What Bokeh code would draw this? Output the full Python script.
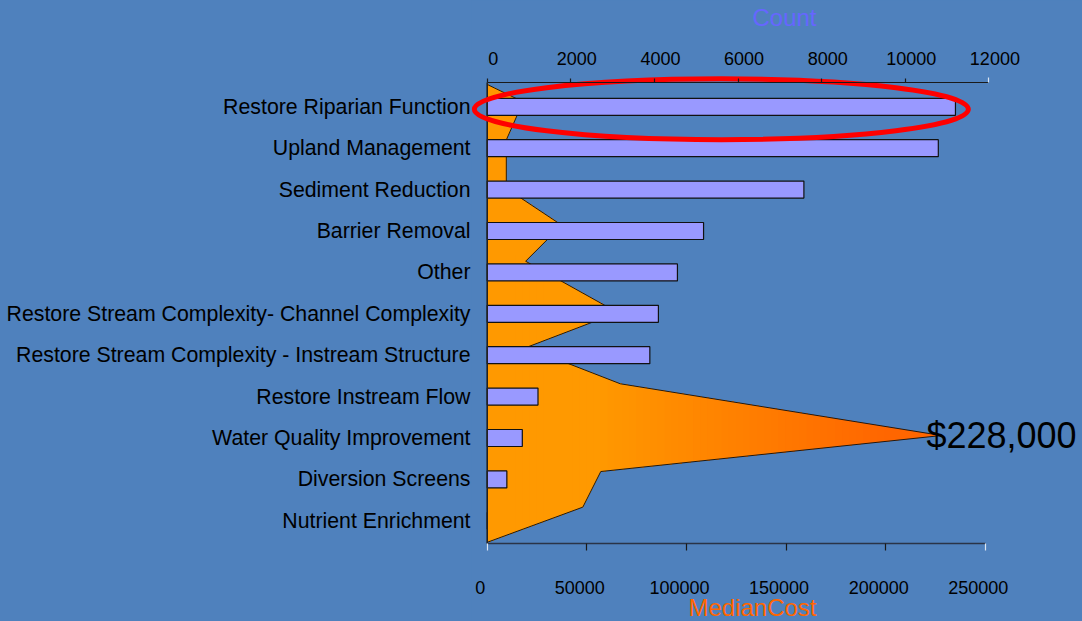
import numpy as np
from bokeh.plotting import figure
from bokeh.models import (Range1d, LinearAxis, FixedTicker, BasicTickFormatter,
                          Label)
from bokeh.embed import file_html
from bokeh.resources import INLINE

# ---- data -------------------------------------------------------------
categories = [
    "Restore Riparian Function",
    "Upland Management",
    "Sediment Reduction",
    "Barrier Removal",
    "Other",
    "Restore Stream Complexity- Channel Complexity",
    "Restore Stream Complexity - Instream Structure",
    "Restore Instream Flow",
    "Water Quality Improvement",
    "Diversion Screens",
    "Nutrient Enrichment",
]
counts = [11200, 10790, 7575, 5175, 4550, 4095, 3890, 1215, 840, 470, 0]

# median cost profile: position along the category axis (0 = first row) and value
cost_pos = [-0.54, -0.12, 0.80, 1.97, 2.86, 3.73, 4.97, 5.81, 6.69, 7.94, 8.81, 9.67, 10.52]
median_cost = [0, 18000, 9600, 9600, 37400, 19300, 65500, 19800, 66800, 228000, 57000, 48000, 0]

count_ticks = [0, 2000, 4000, 6000, 8000, 10000, 12000]
cost_ticks = [0, 50000, 100000, 150000, 200000, 250000]

# ---- layout (pixels) --------------------------------------------------
W, H = 1082, 621
FRAME_L = 471                     # category labels sit left of this
ZERO_X = 486.7                    # where both value axes start
COUNT_PX = 501.7 / 12000          # pixels per count unit
COST_PX = 498.1 / 250000          # pixels per dollar
ROW0_Y, ROW_PX = 106.3, 41.4      # centre of first row, row pitch
TOP_AXIS_Y, BOTTOM_AXIS_Y = 82.0, 543.0
TOP_LABEL_SHIFT = 6               # count labels sit a little right of their ticks
BOTTOM_LABEL_SHIFT = -7           # cost labels sit a little left of theirs
COUNT_TITLE_X, COST_TITLE_X = 784, 752


def row_at(py):
    return (py - ROW0_Y) / ROW_PX


count_lo = (FRAME_L - ZERO_X) / COUNT_PX
count_hi = (W - ZERO_X) / COUNT_PX
cost_lo = (FRAME_L - ZERO_X) / COST_PX
cost_hi = (W - ZERO_X) / COST_PX
top_row, bottom_row = row_at(TOP_AXIS_Y), row_at(BOTTOM_AXIS_Y)

# ---- styling ----------------------------------------------------------
BG = "#4F81BD"
FONT = "Liberation Sans"
BAR_FILL = "#9999FF"
ORANGE_LIGHT = (255, 0x99, 0)
ORANGE_DARK = (255, 0x66, 0)
RULE = "#1a1a1a"
RULE_END = "#dce6f2"

p = figure(width=W, height=H,
           x_range=Range1d(count_lo, count_hi),
           y_range=Range1d(row_at(H), row_at(0)),
           x_axis_location="above",
           output_backend="svg", toolbar_location=None,
           min_border_left=FRAME_L, min_border_right=0,
           min_border_top=0, min_border_bottom=0,
           background_fill_color=BG, border_fill_color=None,
           outline_line_color=None,
           styles={"background-color": BG})
p.outline_line_alpha = 0
p.xgrid.visible = False
p.ygrid.visible = False
p.extra_x_ranges = {
    "cost": Range1d(cost_lo, cost_hi),
    "count_lbl": Range1d(count_lo - TOP_LABEL_SHIFT / COUNT_PX,
                         count_hi - TOP_LABEL_SHIFT / COUNT_PX),
    "cost_lbl": Range1d(cost_lo - BOTTOM_LABEL_SHIFT / COST_PX,
                        cost_hi - BOTTOM_LABEL_SHIFT / COST_PX),
}

# ---- median cost area, shaded left-to-right ---------------------------
y_fine = np.union1d(np.linspace(cost_pos[0], cost_pos[-1], 1500), cost_pos)
x_fine = np.interp(y_fine, cost_pos, median_cost)
n_strips = 64
edges = np.linspace(0, max(median_cost), n_strips + 1)


def shade(c):
    t = float(np.clip((c - 55000) / 145000, 0, 1))
    rgb = [round(a + (b - a) * t) for a, b in zip(ORANGE_LIGHT, ORANGE_DARK)]
    return "#%02x%02x%02x" % tuple(rgb)


for k in range(n_strips - 1, -1, -1):
    p.harea(y=y_fine, x1=0, x2=np.minimum(x_fine, edges[k + 1]),
            fill_color=shade((edges[k] + edges[k + 1]) / 2),
            x_range_name="cost")
p.line(x=median_cost, y=cost_pos, line_color="#1a1a1a", line_width=1,
       x_range_name="cost")

# ---- count bars -------------------------------------------------------
rows = list(range(len(categories)))
p.hbar(y=rows, left=0, right=counts, height=0.41,
       fill_color=BAR_FILL, line_color="#111111", line_width=1.2)

# vertical rule of the category axis, from the bottom axis up to the top axis
p.segment(x0=[0], y0=[bottom_row], x1=[0], y1=[top_row],
          line_color="#222222", line_width=1.6)

# ---- category axis ----------------------------------------------------
ya = p.yaxis[0]
ya.ticker = FixedTicker(ticks=rows)
ya.major_label_overrides = {i: c for i, c in enumerate(categories)}
ya.major_label_text_font = FONT
ya.major_label_text_font_size = "21.3px"
ya.major_label_text_color = "black"
ya.major_label_standoff = 1
ya.major_tick_out = 0
ya.major_tick_in = 0
ya.minor_tick_out = 0
ya.minor_tick_in = 0
ya.axis_line_color = None


# ---- value axes: rule + tick marks, and a separate row of labels --------
def rule_axis(axis, ticks, span, location, tick_out, color, line_color,
              line_width=1.0):
    axis.ticker = FixedTicker(ticks=[], minor_ticks=ticks)
    axis.fixed_location = location
    axis.bounds = span
    axis.axis_line_color = line_color
    axis.axis_line_width = line_width
    axis.major_tick_out = 0
    axis.major_tick_in = 0
    axis.minor_tick_out = tick_out
    axis.minor_tick_in = 0
    axis.minor_tick_line_color = color
    axis.minor_tick_line_width = 1.2


def label_axis(axis, location, standoff, title, title_color, title_standoff):
    axis.fixed_location = location
    axis.axis_line_color = None
    axis.major_tick_out = 0
    axis.major_tick_in = 0
    axis.minor_tick_out = 0
    axis.minor_tick_in = 0
    axis.major_label_text_font = FONT
    axis.major_label_text_font_size = "18px"
    axis.major_label_text_color = "black"
    axis.major_label_standoff = standoff
    axis.axis_label = title
    axis.axis_label_standoff = title_standoff
    axis.axis_label_text_color = title_color
    axis.axis_label_text_font = FONT
    axis.axis_label_text_font_size = "24px"
    axis.axis_label_text_font_style = "normal"


count_span = (count_ticks[0], count_ticks[-1])
cost_span = (cost_ticks[0], cost_ticks[-1])

# count axis along the top edge of the rows
rule_axis(p.xaxis[0], count_ticks[:-1], count_span, top_row, 4, RULE, RULE)
top_end = LinearAxis()
rule_axis(top_end, count_ticks[-1:], count_span, top_row, 5, RULE_END, None)
p.add_layout(top_end, "above")

count_title_mid = (COUNT_TITLE_X - ZERO_X - TOP_LABEL_SHIFT) / COUNT_PX
top_labels = LinearAxis(x_range_name="count_lbl",
                        ticker=FixedTicker(ticks=count_ticks),
                        formatter=BasicTickFormatter(use_scientific=False),
                        bounds=(0, 2 * count_title_mid))
label_axis(top_labels, top_row, 18, "Count", "#6666FF", 18)
p.add_layout(top_labels, "above")

# cost axis along the bottom edge of the rows
bottom_rule = LinearAxis(x_range_name="cost")
rule_axis(bottom_rule, cost_ticks[1:-1], cost_span, bottom_row, 7, RULE,
          "#2a3447", 1.5)
p.add_layout(bottom_rule, "below")
bottom_end = LinearAxis(x_range_name="cost")
rule_axis(bottom_end, [cost_ticks[0], cost_ticks[-1]], cost_span, bottom_row, 7,
          RULE_END, None)
p.add_layout(bottom_end, "below")

cost_title_mid = (COST_TITLE_X - ZERO_X - BOTTOM_LABEL_SHIFT) / COST_PX
bottom_labels = LinearAxis(x_range_name="cost_lbl",
                           ticker=FixedTicker(ticks=cost_ticks),
                           formatter=BasicTickFormatter(use_scientific=False),
                           bounds=(0, 2 * cost_title_mid))
label_axis(bottom_labels, bottom_row, 37, "MedianCost", "#FF6600", -3)
p.add_layout(bottom_labels, "below")

# ---- peak value label and highlight ring --------------------------------
ip = int(np.argmax(median_cost))
p.add_layout(Label(x=median_cost[ip], y=cost_pos[ip], x_range_name="cost",
                   text=f"${median_cost[ip]:,}", text_font=FONT,
                   text_font_size="36px", text_color="black",
                   text_align="left", text_baseline="middle", x_offset=-15))

p.ellipse(x=counts[0] / 2, y=0.06, width=counts[0] * 1.055, height=1.47,
          fill_color=None, line_color="#FF0000", line_width=5)

open("out.html", "w").write(file_html(p, INLINE))
